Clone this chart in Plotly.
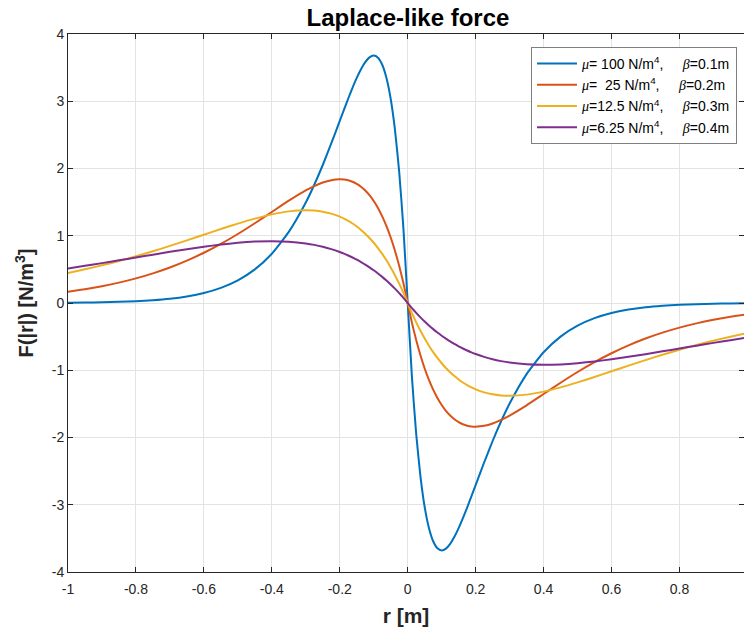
import plotly.graph_objects as go

# r positions (m)
r_pos = [0, 0.0125, 0.025, 0.0375, 0.05, 0.0625, 0.075, 0.0875, 0.1, 0.1125, 0.125, 0.1375, 0.15, 0.1625,
         0.175, 0.1875, 0.2, 0.225, 0.25, 0.275, 0.3,
         0.35, 0.4, 0.45, 0.5, 0.55, 0.6, 0.65, 0.7, 0.75, 0.8, 0.85, 0.9, 0.95, 1.0]

# magnitudes (positive on the r<0 side, negative on r>0 side)
blue_mag = [0, 1.103, 1.947, 2.577, 3.033, 3.346, 3.543, 3.648, 3.679, 3.653, 3.581, 3.476, 3.347, 3.200,
            3.041, 2.876, 2.707, 2.372, 2.052, 1.758, 1.494,
            1.057, 0.733, 0.500, 0.337, 0.225, 0.149, 0.098, 0.064, 0.0415, 0.0268, 0.0173, 0.0111, 0.0071, 0.0045]
red_mag = [0, 0.2936, 0.5516, 0.7772, 0.9735, 1.1431, 1.2887, 1.4123, 1.516, 1.6026, 1.673, 1.7284, 1.771, 1.8025,
           1.824, 1.8356, 1.839, 1.826, 1.791, 1.738, 1.673,
           1.521, 1.353, 1.186, 1.026, 0.879, 0.747, 0.630, 0.528, 0.441, 0.366, 0.303, 0.250, 0.2055, 0.168]
yellow_mag = [0, 0.1499, 0.2875, 0.4137, 0.5291, 0.6343, 0.7301, 0.8170, 0.8956, 0.9665, 1.030, 1.0868, 1.137, 1.1818,
              1.2207, 1.2546, 1.2835, 1.3286, 1.3582, 1.3745, 1.3795,
              1.3624, 1.318, 1.255, 1.1806, 1.0993, 1.015, 0.931, 0.8487, 0.7695, 0.6948, 0.6249, 0.5601, 0.5005, 0.4459]
purple_mag = [0, 0.0757, 0.1468, 0.2134, 0.2758, 0.3341, 0.3886, 0.4394, 0.4868, 0.5307, 0.5716, 0.6094, 0.6443, 0.6765,
              0.7061, 0.7333, 0.7582, 0.8013, 0.8364, 0.8642, 0.8857,
              0.9119, 0.9197, 0.9131, 0.8953, 0.8690, 0.8367, 0.7999, 0.7604, 0.7190, 0.6767, 0.6343, 0.5929, 0.5522, 0.5130]

MU = "<span style=\"font-family:'Liberation Serif'\"><i>μ</i></span>"
BE = "<span style=\"font-family:'Liberation Serif'\"><i>β</i></span>"
SP = "\u00a0" * 5
names = [
    MU + "=\u00a0100 N/m<sup>4</sup>," + SP + BE + "=0.1m",
    MU + "=\u00a0\u00a025 N/m<sup>4</sup>," + SP + BE + "=0.2m",
    MU + "=12.5 N/m<sup>4</sup>," + SP + BE + "=0.3m",
    MU + "=6.25 N/m<sup>4</sup>," + SP + BE + "=0.4m",
]
colors = ["#0072BD", "#D95319", "#EDB120", "#7E2F8E"]
series = [blue_mag, red_mag, yellow_mag, purple_mag]

x_full = [-v for v in r_pos[::-1]] + r_pos[1:]

fig = go.Figure()
for name, col, mag in zip(names, colors, series):
    y_full = list(mag[::-1]) + [-v for v in mag[1:]]
    fig.add_trace(go.Scatter(x=x_full, y=y_full, mode="lines", name=name,
                             line=dict(color=col, width=2, shape="spline", smoothing=0.5)))

axis_common = dict(showgrid=True, gridcolor="#e3e3e3", gridwidth=1, zeroline=False,
                   showline=True, linecolor="#262626", linewidth=1, mirror="ticks",
                   ticks="inside", ticklen=5, tickcolor="#262626",
                   tickfont=dict(family="Liberation Sans, Arial", size=14, color="#262626"))

fig.update_layout(
    width=744, height=630,
    margin=dict(l=68, r=0, t=34, b=58),
    paper_bgcolor="white", plot_bgcolor="white",
    title=dict(text="<b>Laplace-like force</b>", x=(68 + 340) / 744, xanchor="center",
               y=1 - 18 / 630, yanchor="middle",
               font=dict(family="Liberation Sans, Arial", size=24, color="black")),
    xaxis=dict(range=[-1, 0.99], tickvals=[-1, -0.8, -0.6, -0.4, -0.2, 0, 0.2, 0.4, 0.6, 0.8],
               ticktext=["-1", "-0.8", "-0.6", "-0.4", "-0.2", "0", "0.2", "0.4", "0.6", "0.8"],
               ticklabelstandoff=4,
               title=dict(text="<b>r [m]</b>", standoff=12,
                          font=dict(family="Liberation Sans, Arial", size=21, color="#262626")),
               **axis_common),
    yaxis=dict(range=[-4, 4], tickvals=[-4, -3, -2, -1, 0, 1, 2, 3, 4],
               ticktext=["-4", "-3", "-2", "-1", "0", "1", "2", "3", "4"],
               title=dict(text="<b>F(|r|) [N/m<sup>3</sup>]</b>", standoff=12,
                          font=dict(family="Liberation Sans, Arial", size=20, color="#262626")),
               **axis_common),
    legend=dict(x=(737 - 68) / 676, y=(572 - 47) / 538, xanchor="right", yanchor="top",
                bgcolor="white", bordercolor="#7f7f7f", borderwidth=1,
                font=dict(family="Liberation Sans, Arial", size=14, color="black"),
                tracegroupgap=0, itemwidth=40),
    showlegend=True,
)

fig.write_html("out.html")
